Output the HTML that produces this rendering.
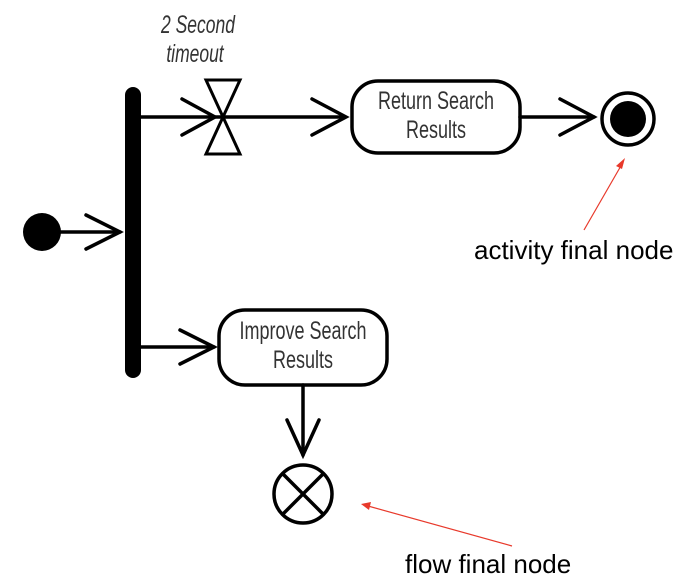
<!DOCTYPE html>
<html><head><style>
html,body{margin:0;padding:0;background:#fff;}
svg{display:block;}
.n{font-family:"Liberation Sans",sans-serif;font-size:25px;fill:#333;}
.l{font-family:"Liberation Sans",sans-serif;font-size:26px;fill:#000;}
</style></head><body>
<svg width="682" height="582" viewBox="0 0 682 582" xmlns="http://www.w3.org/2000/svg">
<rect width="682" height="582" fill="#fff"/>
<g stroke="#000" stroke-width="3.5" fill="none" stroke-linecap="round">
<circle cx="42" cy="232" r="19" fill="#000" stroke="none"/>
<line x1="60" y1="232" x2="120" y2="232"/>
<polyline points="86,215 120,232 86,249"/>
<line x1="133" y1="95" x2="133" y2="370" stroke-width="16"/>
<line x1="141" y1="117" x2="345" y2="117"/>
<polyline points="182,99 215,117 182,135"/>
<polygon points="206,80 240,80 206,154 240,154" stroke-width="3" stroke-linejoin="miter"/>
<polyline points="312,99 346,117 312,135"/>
<rect x="352" y="81" width="168" height="72" rx="26"/>
<line x1="520" y1="117" x2="594" y2="117"/>
<polyline points="560,99 594,117 560,135"/>
<circle cx="628" cy="119" r="26"/>
<circle cx="628" cy="119" r="18" fill="#000" stroke="none"/>
<line x1="141" y1="347" x2="214" y2="347"/>
<polyline points="180,330 214,347 180,364"/>
<rect x="219" y="310" width="168" height="75" rx="26"/>
<line x1="303" y1="385" x2="303" y2="455"/>
<polyline points="287,420 303,455 319,420"/>
<circle cx="303" cy="494" r="29"/>
<line x1="283" y1="474" x2="323" y2="514"/>
<line x1="323" y1="474" x2="283" y2="514"/>
</g>
<text class="n" x="0" y="0" text-anchor="middle" transform="translate(436,109) scale(0.72,1)">Return Search</text>
<text class="n" x="0" y="0" text-anchor="middle" transform="translate(436,138) scale(0.72,1)">Results</text>
<text class="n" x="0" y="0" text-anchor="middle" transform="translate(303,339) scale(0.72,1)">Improve Search</text>
<text class="n" x="0" y="0" text-anchor="middle" transform="translate(303,368) scale(0.72,1)">Results</text>
<text class="n" font-style="italic" x="0" y="0" text-anchor="middle" transform="translate(198,33) scale(0.7,1)">2 Second</text>
<text class="n" font-style="italic" x="0" y="0" text-anchor="middle" transform="translate(195,62) scale(0.7,1)">timeout</text>
<g stroke="#e8392b" stroke-width="1.2" fill="#e8392b">
<line x1="584" y1="230" x2="622" y2="164"/>
<polygon points="625,158 616,166 622,169" stroke="none"/>
<line x1="512" y1="546" x2="368" y2="506"/>
<polygon points="361,504 371,502 369,510" stroke="none"/>
</g>
<text class="l" x="474" y="259">activity final node</text>
<text class="l" x="405" y="573">flow final node</text>
</svg>
</body></html>
